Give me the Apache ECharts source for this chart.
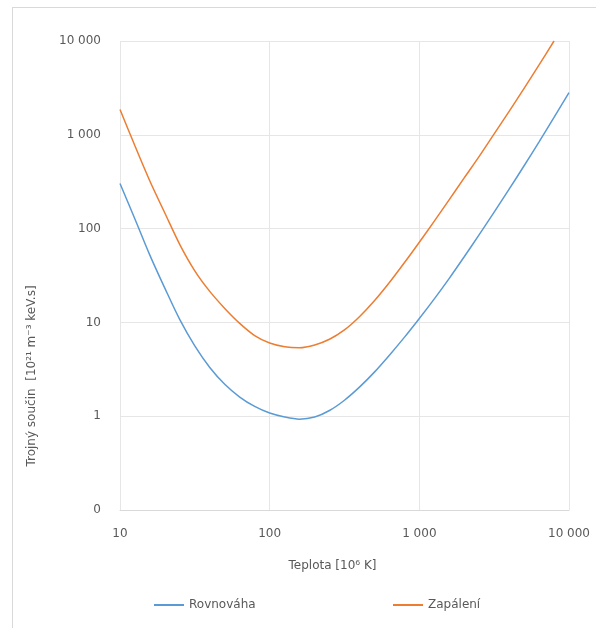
<!DOCTYPE html>
<html lang="cs">
<head>
<meta charset="utf-8">
<title>Trojný součin</title>
<script src="https://cdn.jsdelivr.net/npm/echarts@6/dist/echarts.min.js"></script>
<style>
  html, body { margin: 0; padding: 0; background: #ffffff; }
  #frame {
    position: absolute; left: 12px; top: 7px; width: 590px; height: 630px;
    border: 1px solid #d9d9d9; box-sizing: border-box;
  }
  #chart { position: absolute; left: 0; top: 0; width: 596px; height: 628px; }
</style>
</head>
<body>
<div id="frame"></div>
<div id="chart"></div>
<script>
// Teplota [10^6 K]
const teplotyRovnovaha = [10, 12.6, 15.8, 20, 25.1, 31.6, 39.8, 50.1, 63.1, 79.4, 100, 126, 158, 200, 251, 316, 398, 501, 631, 794, 1000, 1259, 1585, 1995, 2512, 3162, 3981, 5012, 6310, 7943, 10000];
// Trojný součin – rovnováha [10^21 m^-3 keV s]
const rovnovaha = [302, 126, 52.5, 22.9, 10.7, 5.62, 3.31, 2.19, 1.60, 1.27, 1.08, 0.98, 0.93, 0.98, 1.15, 1.48, 2.04, 2.95, 4.47, 6.92, 11.0, 17.8, 29.5, 50.1, 86.1, 150, 263, 468, 841, 1531, 2818];

const teplotyZapaleni = [10, 12.6, 15.8, 20, 25.1, 31.6, 39.8, 50.1, 63.1, 79.4, 100, 126, 158, 200, 251, 316, 398, 501, 631, 794, 1000, 1259, 1585, 1995, 2512, 3162, 3981, 5012, 6310, 7943];
// Trojný součin – zapálení [10^21 m^-3 keV s]
const zapaleni = [1862, 759, 324, 145, 67.6, 35.5, 21.4, 14.1, 9.77, 7.24, 6.03, 5.50, 5.37, 5.75, 6.61, 8.32, 11.5, 17.0, 26.6, 43.2, 71.6, 120, 204, 347, 589, 1023, 1778, 3126, 5559, 10000];

const xTickLabels = ['10', '100', '1 000', '10 000'];
const yTickLabels = ['0', '1', '10', '100', '1 000', '10 000'];

const seriesNames = ['Rovnováha', 'Zapálení'];
const seriesColors = ['#5B9BD5', '#ED7D31'];

const FONT = 'DejaVu Sans';
const TEXT = '#595959';

const pairs = (xs, ys) => xs.map((x, i) => [x, ys[i]]);
const decade = v => Math.round(Math.log10(v));

const legendBase = {
  top: 594,
  icon: 'rect',
  itemWidth: 30,
  itemHeight: 2,
  itemGap: 4,
  textStyle: { color: TEXT, fontSize: 12, fontFamily: FONT }
};

const chart = echarts.init(document.getElementById('chart'), null, { renderer: 'canvas' });

chart.setOption({
  animation: false,
  textStyle: { fontFamily: FONT },
  grid: { left: 120, right: 27, top: 41, bottom: 118, containLabel: false },
  xAxis: {
    type: 'log',
    logBase: 10,
    min: 10,
    max: 10000,
    axisLine: { show: true, lineStyle: { color: '#d9d9d9', width: 1 } },
    axisTick: { show: false },
    axisLabel: {
      color: TEXT, fontSize: 12, fontFamily: FONT, margin: 18,
      formatter: v => xTickLabels[decade(v) - 1]
    },
    splitLine: { show: true, lineStyle: { color: '#e6e6e6', width: 1 } },
    minorTick: { show: false },
    name: 'Teplota [10⁶ K]',
    nameLocation: 'middle',
    nameGap: 50,
    nameTextStyle: { color: TEXT, fontSize: 12, fontFamily: FONT, padding: [0, 24, 0, 0] }
  },
  yAxis: {
    type: 'log',
    logBase: 10,
    min: 0.1,
    max: 10000,
    axisLine: { show: false },
    axisTick: { show: false },
    axisLabel: {
      color: TEXT, fontSize: 12, fontFamily: FONT, margin: 19,
      formatter: v => yTickLabels[decade(v) + 1]
    },
    splitLine: { show: true, lineStyle: { color: '#e6e6e6', width: 1 } }
  },
  graphic: [{
    type: 'text',
    x: 32,
    y: 376,
    rotation: Math.PI / 2,
    style: {
      text: 'Trojný součin  [10²¹ m⁻³ keV.s]',
      fill: TEXT,
      font: '12px "DejaVu Sans"',
      align: 'center',
      verticalAlign: 'middle'
    }
  }],
  legend: [
    Object.assign({ data: [seriesNames[0]], left: 149 }, legendBase),
    Object.assign({ data: [seriesNames[1]], left: 388 }, legendBase)
  ],
  series: [
    {
      name: seriesNames[0],
      type: 'line',
      data: pairs(teplotyRovnovaha, rovnovaha),
      smooth: 0.3,
      symbol: 'none',
      lineStyle: { color: seriesColors[0], width: 1.5 },
      itemStyle: { color: seriesColors[0] }
    },
    {
      name: seriesNames[1],
      type: 'line',
      data: pairs(teplotyZapaleni, zapaleni),
      smooth: 0.3,
      symbol: 'none',
      lineStyle: { color: seriesColors[1], width: 1.5 },
      itemStyle: { color: seriesColors[1] }
    }
  ]
});
</script>
</body>
</html>
